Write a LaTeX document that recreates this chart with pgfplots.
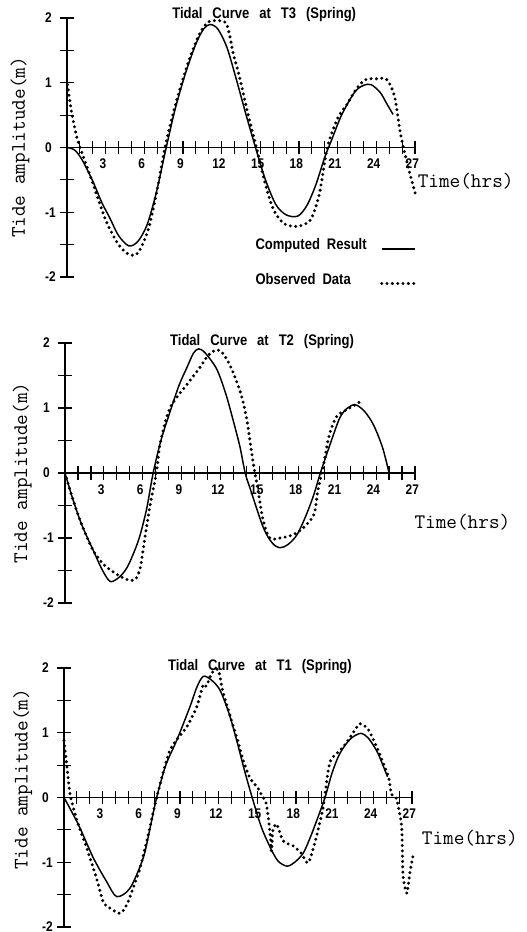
\documentclass[border=0pt]{standalone}
\usepackage{fontspec}
\usepackage{pgfplots}
\pgfplotsset{compat=1.18}
\newfontfamily\plotsf[FakeStretch=0.85]{Liberation Sans}
\newcommand\tickfont{\plotsf\bfseries\fontsize{10.5}{11}\selectfont}
\newcommand\titlefont{\plotsf\bfseries\fontsize{11.5}{12}\selectfont\spaceskip=0.65em plus 0.1em}
\newcommand\legfont{\plotsf\bfseries\fontsize{11.5}{12}\selectfont\spaceskip=0.45em plus 0.1em}
\newcommand\labfont{\ttfamily\fontsize{15.5}{16}\selectfont}
\pgfplotsset{
  tidal/.style={
    scale only axis, axis lines=middle,
    axis line style={-, line width=0.9pt},
    xmin=0, xmax=27, ymin=-2, ymax=2, enlargelimits=false, clip=false,
    xtick={3,6,9,12,15,18,21,24,27},
    xticklabels={3,6,9,12,15,18,21,24,27},
    minor xtick={1,2,4,5,7,8,10,11,13,14,16,17,19,20,22,23,25,26},
    ytick={-2,-1,0,1,2}, yticklabels={-2,-1,0,1,2},
    minor ytick={-1.5,-0.5,0.5,1.5},
    tick align=center, major tick length=10pt, minor tick length=10pt,
    every tick/.style={black, line width=0.9pt},
    hide obscured y ticks=false,
    xticklabel style={font=\tickfont, xshift=-2pt},
    yticklabel style={font=\tickfont, anchor=west, xshift=-15pt},
  },
  comp/.style={black, line width=1.1pt, smooth},
  obs/.style={black, line width=2.5pt, line cap=round, dash pattern=on 0pt off 4pt, smooth},
}
\begin{document}
\begin{tikzpicture}
\path[use as bounding box] (0,0) rectangle (394.5pt,699pt);
% Panel 1 (T3)
\begin{axis}[tidal, at={(50.25pt,491.25pt)}, anchor=south west, width=261pt, height=194.25pt,
  legend plot pos=right,
  legend style={draw=none, fill=none, at={(axis cs:14.4,-1.36)}, anchor=north west,
    font=\legfont, legend cell align=left, row sep=12pt, column sep=8pt, inner sep=0pt},
  legend image code/.code={\draw[#1] (0pt,-3pt) -- (25pt,-3pt);}]
\addplot[comp] coordinates {(0,0) (0.6,-0.04) (1.2,-0.2) (2,-0.52) (2.7,-0.85) (3.3,-1.08) (4.0,-1.36) (4.8,-1.52) (5.5,-1.45) (6.2,-1.2) (6.9,-0.72) (7.7,0) (8.4,0.6) (9.2,1.15) (10.0,1.6) (10.6,1.83) (11.1,1.9) (11.7,1.83) (12.4,1.55) (13.1,1.08) (13.9,0.5) (14.7,-0.05) (15.4,-0.5) (16.2,-0.88) (17.0,-1.04) (17.9,-1.06) (18.6,-0.9) (19.3,-0.58) (20.0,-0.15) (20.5,0.1) (21.3,0.5) (22.3,0.85) (23.0,0.96) (23.6,0.97) (24.3,0.85) (24.8,0.68) (25.3,0.51)};
\addlegendentry{Computed Result}
\addplot[obs] coordinates {(0.05,0.97) (0.35,0.55) (0.75,0.17) (1.1,-0.05) (2,-0.55) (3,-1.12) (4,-1.5) (4.8,-1.65) (5.5,-1.63) (6.3,-1.27) (7,-0.65) (7.6,0) (8.4,0.65) (9.3,1.25) (10.2,1.72) (10.9,1.93) (11.6,1.96) (12.3,1.93) (12.6,1.75) (12.9,1.45) (13.4,1.08) (14.0,0.55) (14.7,0) (15.3,-0.5) (16.0,-0.95) (16.8,-1.17) (17.7,-1.22) (18.5,-1.18) (19.0,-1.08) (19.6,-0.7) (20.2,0) (21.0,0.45) (21.7,0.66) (22.5,0.92) (23.2,1.05) (24.0,1.06) (24.8,1.05) (25.4,0.8) (25.8,0.3) (26.1,0.0) (26.6,-0.4) (27.1,-0.77)};
\addlegendentry{Observed Data}
\node[font=\titlefont] at (axis cs:15.3,2.05) {Tidal Curve at T3 (Spring)};
\node[font=\labfont, rotate=90] at (axis cs:-3.65,0) {Tide amplitude(m)};
\node[font=\labfont, anchor=west] at (axis cs:26.85,-0.52) {Time(hrs)};
\end{axis}
% Panel 2 (T2)
\begin{axis}[tidal, at={(48.75pt,246.75pt)}, anchor=south west, width=262.5pt, height=195pt]
\addplot[comp] coordinates {(0,0) (0.6,-0.4) (1.3,-0.8) (2.2,-1.2) (2.9,-1.5) (3.5,-1.67) (4.2,-1.6) (4.8,-1.45) (5.4,-1.18) (5.8,-0.95) (6.3,-0.55) (6.8,0) (7.4,0.5) (8.1,0.94) (8.8,1.35) (9.4,1.62) (9.9,1.84) (10.3,1.91) (10.8,1.85) (11.7,1.6) (12.4,1.22) (13.0,0.79) (13.5,0.4) (13.9,0) (14.3,-0.25) (15.3,-0.84) (16.0,-1.08) (16.6,-1.15) (17.2,-1.1) (17.9,-0.95) (18.6,-0.65) (19.2,-0.33) (19.7,0) (20.45,0.44) (21.2,0.85) (21.8,1.0) (22.4,1.05) (23.1,0.95) (23.8,0.74) (24.5,0.39) (25.0,0)};
\addplot[obs] coordinates {(0,0) (0.6,-0.4) (1.3,-0.8) (2.2,-1.2) (3.0,-1.41) (4.0,-1.56) (4.8,-1.64) (5.4,-1.64) (5.8,-1.46) (6.2,-0.95) (6.6,-0.45) (7.05,0) (7.35,0.46) (8.1,1.0) (9.4,1.36) (10.4,1.62) (11.0,1.8) (11.5,1.88) (12.0,1.88) (12.7,1.67) (13.5,1.26) (14.0,0.85) (14.5,0.18) (14.9,-0.28) (15.3,-0.74) (15.8,-1.0) (16.6,-1.0) (17.6,-0.95) (18.4,-0.84) (19.2,-0.64) (19.5,-0.28) (19.9,0.08) (20.4,0.59) (20.96,0.87) (21.7,0.97) (22.4,1.05) (23.0,1.13)};
\node[font=\titlefont] at (axis cs:15.2,2.02) {Tidal Curve at T2 (Spring)};
\node[font=\labfont, rotate=90] at (axis cs:-3.3,0) {Tide amplitude(m)};
\node[font=\labfont, anchor=west] at (axis cs:26.6,-0.75) {Time(hrs)};
\end{axis}
% Panel 3 (T1)
\begin{axis}[tidal, at={(48pt,3.75pt)}, anchor=south west, width=261pt, height=194.25pt]
\addplot[comp] coordinates {(0,0) (0.6,-0.22) (1.24,-0.47) (2.27,-0.93) (3.31,-1.3) (4.09,-1.53) (5.12,-1.4) (6.15,-0.93) (6.7,-0.45) (7.19,0) (7.9,0.5) (8.74,0.88) (9.77,1.4) (10.3,1.7) (10.8,1.87) (11.4,1.82) (12.1,1.66) (12.8,1.3) (13.4,0.88) (14.0,0.42) (14.6,0) (15.3,-0.45) (16.0,-0.77) (16.6,-0.98) (17.3,-1.06) (17.9,-1.0) (18.56,-0.86) (19.1,-0.62) (19.6,-0.36) (20.25,0) (20.8,0.38) (21.4,0.68) (22.2,0.9) (23.0,0.99) (23.6,0.92) (24.26,0.72) (24.7,0.52) (25.1,0.32)};
\addplot[obs, tension=0.4] coordinates {(0,0.88) (0.26,0.42) (0.47,0.05) (1.0,-0.35) (1.76,-0.78) (2.53,-1.25) (3.05,-1.62) (3.5,-1.7) (4.34,-1.79) (4.86,-1.66) (5.4,-1.38) (5.9,-1.09) (6.54,-0.57) (7.19,0) (8.22,0.73) (9.52,1.09) (10.3,1.4) (10.8,1.74) (11.06,1.72) (11.46,1.92) (11.97,1.97) (12.36,1.61) (13.4,0.93) (13.9,0.58) (14.4,0.31) (15.1,0.13) (15.3,0.05) (15.7,-0.1) (16.0,-0.57) (16.1,-0.83) (16.2,-0.52) (16.5,-0.41) (17.0,-0.67) (17.8,-0.75) (18.4,-0.86) (18.95,-1.01) (19.5,-0.67) (20.1,-0.16) (20.5,0.42) (20.77,0.6) (21.67,0.78) (22.4,0.99) (22.96,1.14) (23.6,1.05) (24.26,0.78) (25.16,0.33) (25.4,0.05) (25.8,-0.02) (26.2,-0.46) (26.3,-1.19) (26.6,-1.48) (26.85,-1.14) (27.1,-0.88)};
\node[font=\titlefont] at (axis cs:15.2,2.02) {Tidal Curve at T1 (Spring)};
\node[font=\labfont, rotate=90] at (axis cs:-3.2,0.28) {Tide amplitude(m)};
\node[font=\labfont, anchor=west] at (axis cs:27.4,-0.63) {Time(hrs)};
\end{axis}
\end{tikzpicture}
\end{document}
